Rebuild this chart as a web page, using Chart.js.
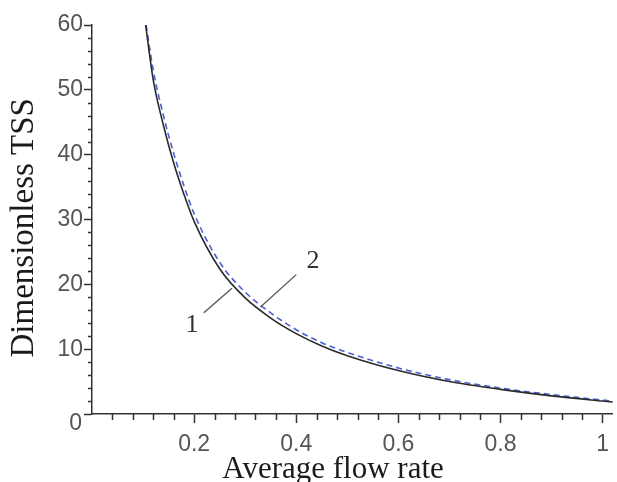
<!DOCTYPE html>
<html>
<head>
<meta charset="utf-8">
<script src="https://cdn.jsdelivr.net/npm/chart.js@4.4.0/dist/chart.umd.min.js"></script>
<style>
  html, body { margin: 0; padding: 0; background: #fff; }
  #wrap { width: 617px; height: 482px; }
</style>
</head>
<body>
<div id="wrap"><canvas id="tssChart" width="617" height="482"></canvas></div>
<script>
// curve 1 (solid black) and curve 2 (dashed blue)
const flow1 = [0.105, 0.12, 0.14, 0.16, 0.18, 0.2, 0.25, 0.3, 0.35, 0.4, 0.45, 0.5, 0.6, 0.7, 0.8, 0.9, 1.0, 1.02];
const tss1 = [60, 51.5, 44.5, 38.7, 33.9, 29.7, 22.4, 17.9, 14.8, 12.4, 10.5, 9.0, 6.7, 5.0, 3.8, 2.8, 2.0, 1.85];
const flow2 = [0.106, 0.12, 0.14, 0.16, 0.18, 0.2, 0.25, 0.3, 0.35, 0.4, 0.45, 0.5, 0.6, 0.7, 0.8, 0.9, 1.0, 1.02];
const tss2 = [60, 53.0, 46.0, 40.2, 35.2, 30.9, 23.4, 18.8, 15.6, 13.0, 11.0, 9.5, 7.1, 5.3, 4.0, 3.0, 2.15, 2.0];

const xTicks = [0.2, 0.4, 0.6, 0.8, 1];
const yTicks = [0, 10, 20, 30, 40, 50, 60];
const xMinor = [0.04, 0.08, 0.12, 0.16, 0.24, 0.28, 0.32, 0.36, 0.44, 0.48, 0.52, 0.56,
  0.64, 0.68, 0.72, 0.76, 0.84, 0.88, 0.92, 0.96];
const yMinor = [2, 4, 6, 8, 12, 14, 16, 18, 22, 24, 26, 28, 32, 34, 36, 38, 42, 44, 46, 48, 52, 54, 56, 58];

// curve labels: [text, label x, label y, line start x, line start y, line end x, line end y]
const curveLabels = [
  ['1', 0.196, 13.7, 0.219, 15.6, 0.274, 19.4],
  ['2', 0.433, 23.5, 0.330, 16.5, 0.400, 21.5]
];

const tickFont = { family: 'Liberation Sans', size: 23 };
const tickColor = '#555';

const toPoints = (xs, ys) => xs.map((x, i) => ({ x: x, y: ys[i] }));

// minor ticks, origin "0" and the curve labels
const extras = {
  id: 'extras',
  afterDraw(chart) {
    const ctx = chart.ctx;
    const xs = chart.scales.x, ys = chart.scales.y;
    const x0 = chart.chartArea.left, y0 = chart.chartArea.bottom;
    ctx.save();
    ctx.strokeStyle = '#333';
    ctx.lineWidth = 1.5;
    ctx.beginPath();
    xMinor.forEach(v => {
      const px = Math.round(xs.getPixelForValue(v)) + 0.5;
      ctx.moveTo(px, y0);
      ctx.lineTo(px, y0 + 6);
    });
    yMinor.forEach(v => {
      const py = Math.round(ys.getPixelForValue(v)) + 0.5;
      ctx.moveTo(x0, py);
      ctx.lineTo(x0 - 4, py);
    });
    ctx.stroke();

    ctx.fillStyle = tickColor;
    ctx.font = '23px "Liberation Sans"';
    ctx.textAlign = 'right';
    ctx.textBaseline = 'middle';
    ctx.fillText('0', x0 - 10, ys.getPixelForValue(0) + 10);

    ctx.strokeStyle = '#555';
    ctx.lineWidth = 1.3;
    ctx.fillStyle = '#333';
    ctx.font = '26px "Liberation Serif"';
    ctx.textAlign = 'center';
    curveLabels.forEach(l => {
      ctx.beginPath();
      ctx.moveTo(xs.getPixelForValue(l[3]), ys.getPixelForValue(l[4]));
      ctx.lineTo(xs.getPixelForValue(l[5]), ys.getPixelForValue(l[6]));
      ctx.stroke();
      ctx.fillText(l[0], xs.getPixelForValue(l[1]), ys.getPixelForValue(l[2]));
    });
    ctx.restore();
  }
};

new Chart(document.getElementById('tssChart'), {
  type: 'line',
  data: {
    datasets: [
      {
        label: '1',
        data: toPoints(flow1, tss1),
        borderColor: '#2a2a2a',
        borderWidth: 1.6,
        pointRadius: 0,
        cubicInterpolationMode: 'monotone'
      },
      {
        label: '2',
        data: toPoints(flow2, tss2),
        borderColor: '#4a5fd0',
        borderWidth: 1.6,
        borderDash: [6, 4],
        pointRadius: 0,
        cubicInterpolationMode: 'monotone'
      }
    ]
  },
  options: {
    responsive: false,
    animation: false,
    events: [],
    layout: { padding: { top: 25, right: 0, left: 0, bottom: 0 } },
    plugins: {
      legend: { display: false },
      tooltip: { enabled: false }
    },
    scales: {
      x: {
        type: 'linear',
        min: 0,
        max: 1.02,
        afterFit: s => { s.height = 68; },
        afterBuildTicks: s => { s.ticks = xTicks.map(v => ({ value: v })); },
        border: { color: '#333', width: 1.5 },
        grid: { drawOnChartArea: false, tickLength: 9, color: '#333', tickWidth: 1.5 },
        ticks: {
          font: tickFont,
          color: tickColor,
          padding: 8,
          maxRotation: 0,
          callback: v => (v === 1 ? '1' : v.toFixed(1))
        },
        title: {
          display: true,
          // trailing spaces nudge the centred title left, as in the original
          text: 'Average flow rate     ',
          font: { family: 'Liberation Serif', size: 31, lineHeight: 0.8 },
          color: '#1a1a1a',
          padding: { top: 0, bottom: 0 }
        }
      },
      y: {
        type: 'linear',
        min: 0,
        max: 60,
        afterFit: s => { s.width = 92; },
        afterBuildTicks: s => { s.ticks = yTicks.map(v => ({ value: v })); },
        border: { color: '#333', width: 1.5 },
        grid: { drawOnChartArea: false, tickLength: 8, color: '#333', tickWidth: 1.5 },
        ticks: {
          font: tickFont,
          color: tickColor,
          padding: 1,
          callback: v => (v === 0 ? '' : String(v))
        },
        title: {
          display: true,
          text: 'Dimensionless TSS  ',
          font: { family: 'Liberation Serif', size: 33 },
          color: '#1a1a1a',
          padding: { top: 5, bottom: 0 }
        }
      }
    }
  },
  plugins: [extras]
});
</script>
</body>
</html>
